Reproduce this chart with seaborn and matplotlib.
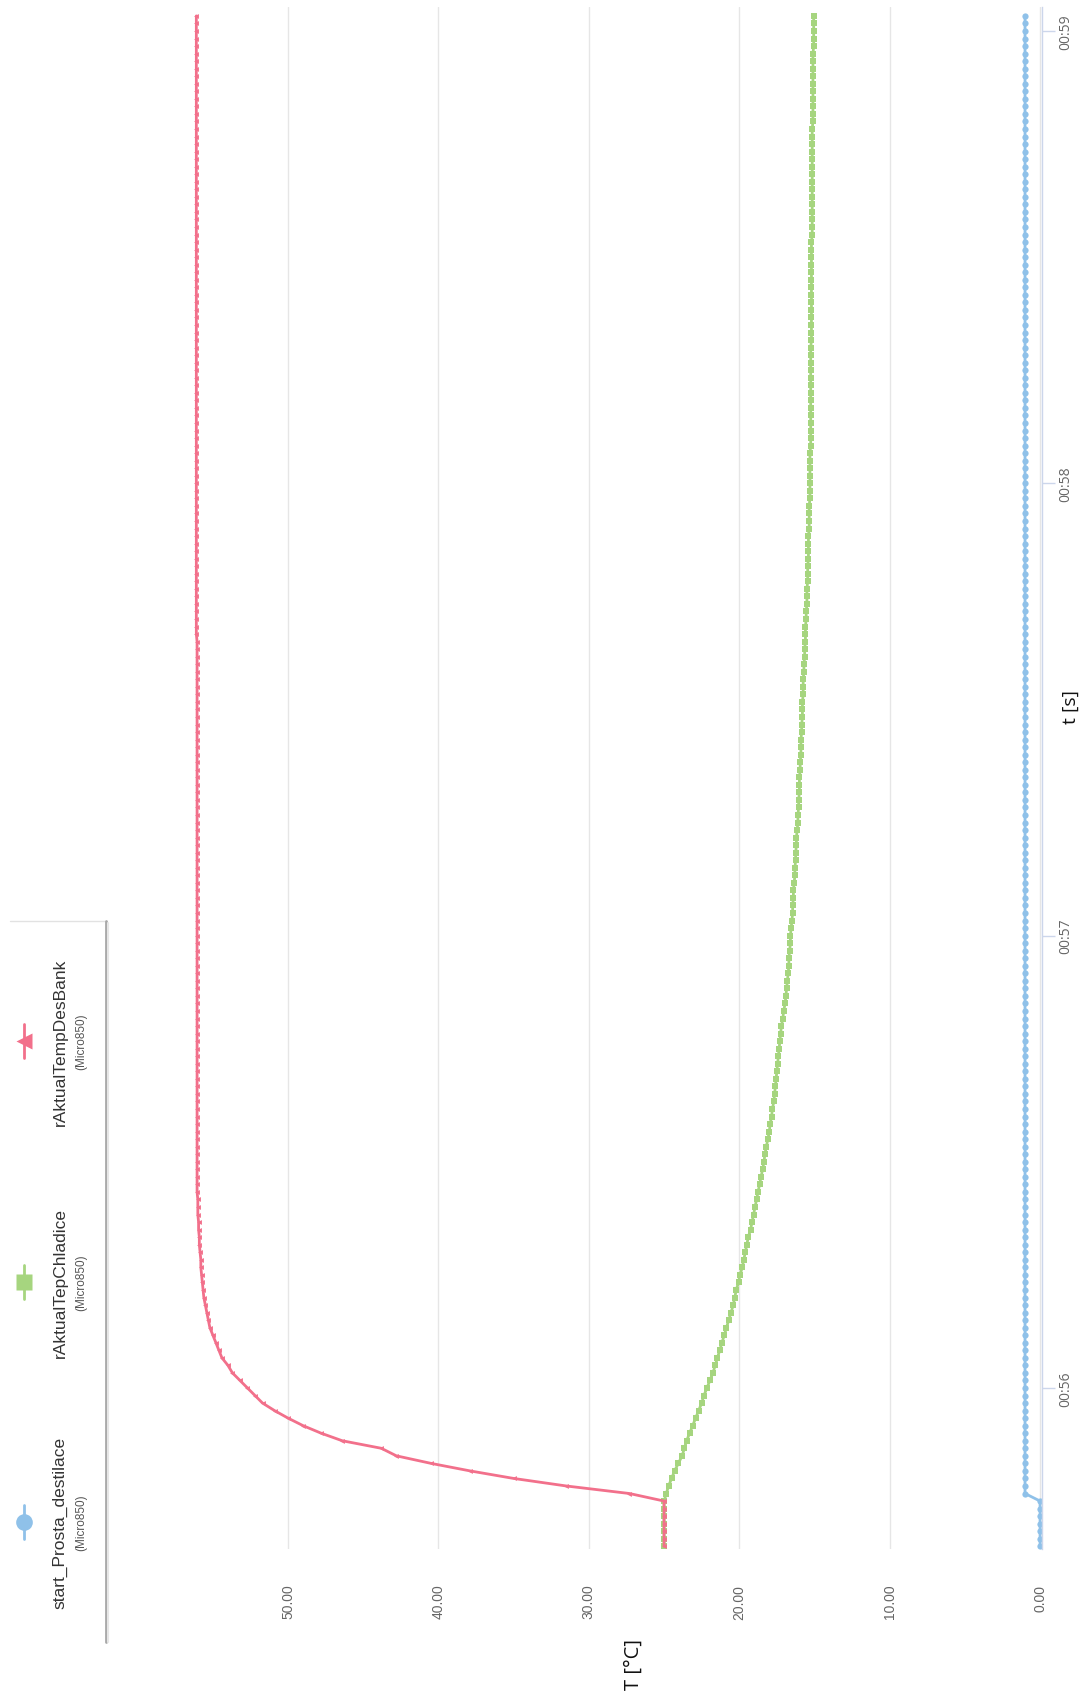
import numpy as np
import pandas as pd
import matplotlib
matplotlib.use("Agg")
import matplotlib.pyplot as plt
import seaborn as sns
from matplotlib.lines import Line2D

# --- data (one sample per second, time axis in minutes) ---
start_s = 55 * 60 + 39  # 00:55:39

start_prosta = [0] * 7 + [1] * 197

temp_chladice = [25.0] * 7 + [
    24.85, 24.7, 24.5, 24.3, 24.05, 23.8, 23.65, 23.5, 23.3, 23.1,
    22.9, 22.7, 22.5, 22.35, 22.15, 21.95, 21.75, 21.6, 21.45, 21.3,
    21.15, 21.0, 20.85, 20.7, 20.55, 20.4, 20.3, 20.2, 20.05, 19.95,
    19.8, 19.7, 19.6, 19.5, 19.4, 19.25, 19.15, 19.05, 18.95, 18.85,
    18.75, 18.65, 18.55, 18.45, 18.35, 18.3, 18.2, 18.1, 18.0, 17.95,
    17.85, 17.8, 17.7, 17.65, 17.6, 17.55, 17.5, 17.45, 17.4, 17.35,
    17.3, 17.25, 17.2, 17.1, 17.05, 16.95, 16.9, 16.85, 16.8, 16.75,
    16.7, 16.7, 16.65, 16.6, 16.6, 16.55, 16.5, 16.45, 16.45, 16.4,
    16.4, 16.35, 16.3, 16.3, 16.25, 16.25, 16.2, 16.2, 16.15, 16.1,
    16.1, 16.05, 16.05, 16.0, 16.0, 16.0, 15.95, 15.95, 15.9, 15.9,
    15.9, 15.85, 15.85, 15.8, 15.8, 15.8, 15.75, 15.75, 15.75, 15.7,
    15.7, 15.65, 15.65, 15.6, 15.6, 15.6, 15.55, 15.55, 15.5, 15.5,
    15.5, 15.45, 15.45, 15.45, 15.4, 15.4, 15.4, 15.4, 15.35, 15.35,
    15.35, 15.35, 15.3,
] + [15.3] * 6 + [15.25] * 14 + [15.2] * 14 + [15.15] * 15 + [15.1] * 10 + [15.05] * 5

temp_desbank = [25.0] * 7 + [
    27.3, 31.5, 35.0, 37.9, 40.5, 42.8, 43.8, 46.4, 47.8, 49.0,
    50.0, 50.9, 51.7, 52.2, 52.7, 53.2, 53.7, 54.0, 54.4, 54.6,
    54.8, 55.0, 55.2, 55.3, 55.4, 55.5, 55.6, 55.65, 55.7, 55.75,
    55.8, 55.8, 55.85, 55.9, 55.9, 55.95, 55.95, 56.0, 56.0, 56.0,
] + [56.05] * 74 + [56.1] * 83

series_names = ["start_Prosta_destilace", "rAktualTepChladice", "rAktualTempDesBank"]
source = "(Micro850)"
temp_ticks = [0, 10, 20, 30, 40, 50]
time_ticks = [56, 57, 58, 59]
time_labels = ["00:56", "00:57", "00:58", "00:59"]

t_min = (start_s + np.arange(len(temp_desbank))) / 60

colors = ["#8fc1e9", "#a6d57f", "#f2708b"]
markers = ["o", "s", "<"]
msizes = [4.5, 4.3, 3.5]

sns.set_style("white")
plt.rcParams["font.family"] = ["Liberation Sans Narrow", "Liberation Sans", "DejaVu Sans"]

W, H = 1091, 1706
fig = plt.figure(figsize=(W / 100, H / 100), dpi=100)
ax = fig.add_axes([110 / W, 1 - 1550 / H, (1042 - 110) / W, (1550 - 8) / H])

# chart is rotated: temperature runs horizontally (0 on the right), time upwards
for vals, c, m, s in zip([start_prosta, temp_chladice, temp_desbank], colors, markers, msizes):
    sns.lineplot(x=vals, y=t_min, orient="y", sort=False, ax=ax, color=c, lw=2,
                 marker=m, ms=s, mec="none", mew=0)

ax.set_xlim(61.84, -0.13)
ax.set_ylim(55.644, 59.053)

ax.set_xticks(temp_ticks)
ax.set_xticklabels([f"{v:.2f}" for v in temp_ticks], rotation=90, color="#666666", fontsize=10)
ax.tick_params(axis="x", length=0, pad=25)
ax.grid(axis="x", color="#e6e6e6", lw=1)
ax.grid(axis="y", visible=False)

ax.yaxis.tick_right()
ax.set_yticks(time_ticks)
ax.set_yticklabels(time_labels, rotation=90, va="center", color="#666666",
                   fontsize=10, family=["Open Sans", "DejaVu Sans"])
ax.tick_params(axis="y", length=9.5, width=1, color="#ccd6eb", pad=2, right=True, left=False)

for side in ["top", "left", "bottom"]:
    ax.spines[side].set_visible(False)
ax.spines["right"].set_color("#ccd6eb")
ax.spines["right"].set_linewidth(1)
ax.set_xlabel("")
ax.set_ylabel("")

# axis titles
fig.text(1071 / W, 1 - 707 / H, "t [s]", rotation=90, ha="center", va="center",
         fontsize=14, color="#111111", family=["Open Sans", "DejaVu Sans"])
fig.text(634 / W, 1 - 1665 / H, "T [°C]", rotation=90, ha="center", va="center",
         fontsize=14.5, color="#111111", family=["Open Sans", "DejaVu Sans"])

# legend box (rotated)
fig.add_artist(Line2D([10 / W, 106 / W], [1 - 922 / H, 1 - 922 / H], transform=fig.transFigure,
                      color="#e2e2e2", lw=1))
fig.add_artist(Line2D([106 / W, 106 / W], [1 - 922 / H, 1 - 1643 / H], transform=fig.transFigure,
                      color="#a8a8a8", lw=2))
fig.add_artist(Line2D([108 / W, 108 / W], [1 - 924 / H, 1 - 1643 / H], transform=fig.transFigure,
                      color="#e6e6e6", lw=1.5))

legend_y = [1523, 1283, 1042]
for name, c, m, ly in zip(series_names, colors, markers, legend_y):
    fig.add_artist(Line2D([24 / W, 24 / W], [1 - (ly - 17) / H, 1 - (ly + 17) / H],
                          transform=fig.transFigure, color=c, lw=2))
    fig.add_artist(Line2D([24 / W], [1 - ly / H], transform=fig.transFigure, color=c,
                          marker=m, ms=12, mec="none"))
    fig.text(60 / W, 1 - ly / H, name, rotation=90, ha="center", va="center",
             fontsize=12.5, color="#333333")
    fig.text(81 / W, 1 - ly / H, source, rotation=90, ha="center", va="center",
             fontsize=8.5, color="#555555")

fig.savefig("out.png", dpi=100)
